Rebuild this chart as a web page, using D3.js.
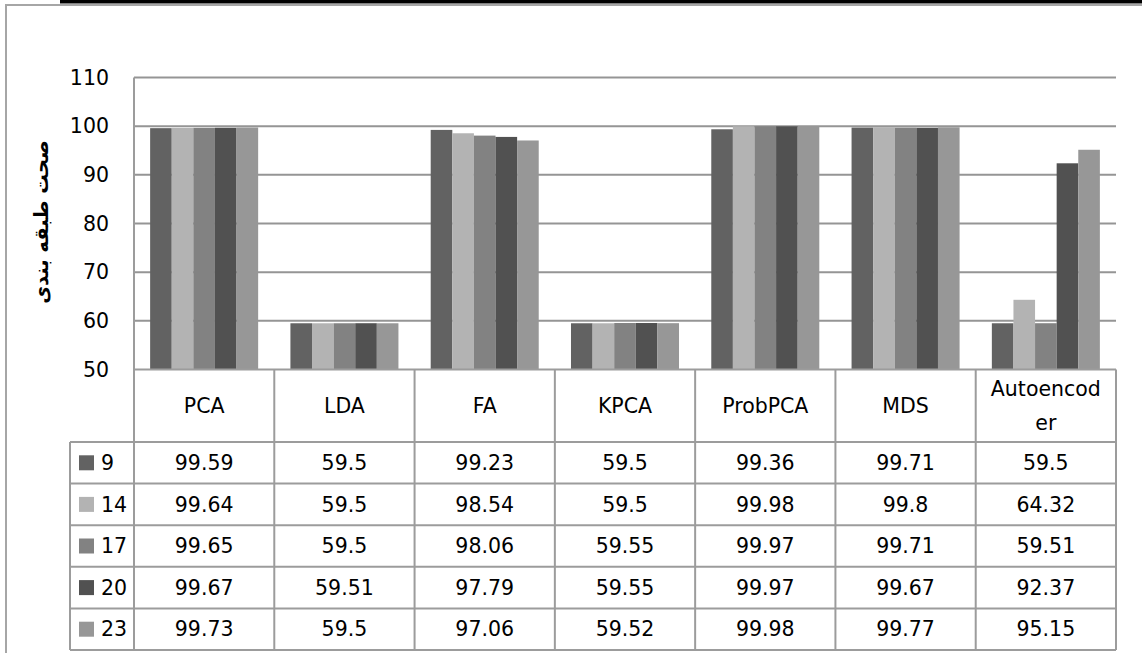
<!DOCTYPE html>
<html>
<head>
<meta charset="utf-8">
<script src="https://cdn.jsdelivr.net/npm/d3@7"></script>
<style>
  html, body { margin: 0; padding: 0; background: #fff; }
  svg { display: block; }
  text { font-family: "DejaVu Sans", "Noto Sans", sans-serif; fill: #000; }
</style>
</head>
<body>
<svg id="chart" width="1142" height="653"></svg>
<script>
// Methods compared (one column each) and their header lines in the data table
const categories = ["PCA", "LDA", "FA", "KPCA", "ProbPCA", "MDS", "Autoencoder"];
const headerLines = [["PCA"], ["LDA"], ["FA"], ["KPCA"], ["ProbPCA"], ["MDS"], ["Autoencod", "er"]];

// Number of retained features for each series
const seriesNames = ["9", "14", "17", "20", "23"];
const seriesColors = ["#626262", "#b3b3b3", "#828282", "#515151", "#979797"];

// Classification accuracy (%) per method, one array per series
const acc9  = [99.59, 59.5,  99.23, 59.5,  99.36, 99.71, 59.5];
const acc14 = [99.64, 59.5,  98.54, 59.5,  99.98, 99.8,  64.32];
const acc17 = [99.65, 59.5,  98.06, 59.55, 99.97, 99.71, 59.51];
const acc20 = [99.67, 59.51, 97.79, 59.55, 99.97, 99.67, 92.37];
const acc23 = [99.73, 59.5,  97.06, 59.52, 99.98, 99.77, 95.15];
const seriesValues = [acc9, acc14, acc17, acc20, acc23];

const yTicks = [50, 60, 70, 80, 90, 100, 110];
const yTitle = "صحت طبقه بندی";

const svg = d3.select("#chart");

// layout
const plotLeft = 134, plotRight = 1116, plotTop = 77.5, plotBottom = 369.5;
const headerBottom = 442, rowH = 41.6, legendLeft = 70;
const gridColor = "#959595", tableColor = "#9c9c9c";
const fs = 20.5;

// frame around the figure
svg.append("rect").attr("x", 60).attr("y", 0).attr("width", 1082).attr("height", 3.5).attr("fill", "#000");
svg.append("path").attr("d", "M6,700 V5 H1142").attr("fill", "none")
  .attr("stroke", "#a6a6a6").attr("stroke-width", 2);

const x = d3.scaleBand().domain(categories).range([plotLeft, plotRight]).padding(0);
const bw = x.bandwidth();
const xs = d3.scaleBand().domain(seriesNames).range([bw * 0.115, bw * 0.885]).padding(0);
const y = d3.scaleLinear().domain([50, 110]).range([plotBottom, plotTop]);

// horizontal gridlines
svg.append("g").selectAll("line").data(yTicks.filter(t => t > 50)).join("line")
  .attr("x1", plotLeft).attr("x2", plotRight)
  .attr("y1", d => y(d)).attr("y2", d => y(d))
  .attr("stroke", gridColor).attr("stroke-width", 2);

// y axis tick labels
const yAxis = d3.axisLeft(y).tickValues(yTicks).tickSize(0).tickPadding(25);
const gy = svg.append("g").attr("transform", `translate(${plotLeft},0)`).call(yAxis);
gy.select(".domain").remove();
gy.selectAll("text").attr("font-size", fs).attr("font-family", "DejaVu Sans").attr("fill", "#000");

// y axis title
svg.append("text")
  .attr("transform", "translate(48,222) rotate(-90)")
  .attr("text-anchor", "middle")
  .attr("font-size", 19.5).attr("font-weight", "bold")
  .text(yTitle);

// bars
const groups = svg.append("g").selectAll("g").data(seriesNames).join("g")
  .attr("fill", (d, i) => seriesColors[i]);
groups.selectAll("rect").data((s, si) => categories.map((c, ci) => ({ c, s, v: seriesValues[si][ci] })))
  .join("rect")
  .attr("x", d => x(d.c) + xs(d.s))
  .attr("width", xs.bandwidth())
  .attr("y", d => y(d.v))
  .attr("height", d => y(50) - y(d.v));

// data table lines
const tableBottom = headerBottom + rowH * seriesNames.length;
const tl = svg.append("g").attr("stroke", tableColor).attr("stroke-width", 2).attr("fill", "none");
// left axis line continuing down through the table
tl.append("line").attr("x1", plotLeft).attr("x2", plotLeft).attr("y1", plotTop).attr("y2", tableBottom);
// baseline / top of the header row
tl.append("line").attr("x1", plotLeft).attr("x2", plotRight).attr("y1", plotBottom).attr("y2", plotBottom);
// column separators
categories.forEach((c, i) => {
  const xx = x(c) + bw;
  tl.append("line").attr("x1", xx).attr("x2", xx).attr("y1", plotBottom).attr("y2", tableBottom);
});
// row lines including legend column
for (let r = 0; r <= seriesNames.length; r++) {
  const yy = headerBottom + r * rowH;
  tl.append("line").attr("x1", legendLeft).attr("x2", plotRight).attr("y1", yy).attr("y2", yy);
}
tl.append("line").attr("x1", legendLeft).attr("x2", legendLeft).attr("y1", headerBottom).attr("y2", tableBottom);

// header labels
const hdr = svg.append("g").attr("font-size", fs).attr("text-anchor", "middle");
categories.forEach((c, i) => {
  const lines = headerLines[i];
  const cx = x(c) + bw / 2;
  const cy = (plotBottom + headerBottom) / 2;
  lines.forEach((ln, li) => {
    hdr.append("text")
      .attr("x", cx)
      .attr("y", cy + (li - (lines.length - 1) / 2) * 34)
      .attr("dy", "0.35em")
      .text(ln);
  });
});

// legend keys and values
seriesNames.forEach((s, si) => {
  const cy = headerBottom + (si + 0.5) * rowH;
  svg.append("rect").attr("x", 79).attr("y", cy - 7.5).attr("width", 15).attr("height", 15)
    .attr("fill", seriesColors[si]);
  svg.append("text").attr("x", 101).attr("y", cy).attr("dy", "0.35em")
    .attr("font-size", fs).text(s);
  categories.forEach((c, ci) => {
    svg.append("text")
      .attr("x", x(c) + bw / 2).attr("y", cy).attr("dy", "0.35em")
      .attr("text-anchor", "middle").attr("font-size", fs)
      .text(String(seriesValues[si][ci]));
  });
});
</script>
</body>
</html>
